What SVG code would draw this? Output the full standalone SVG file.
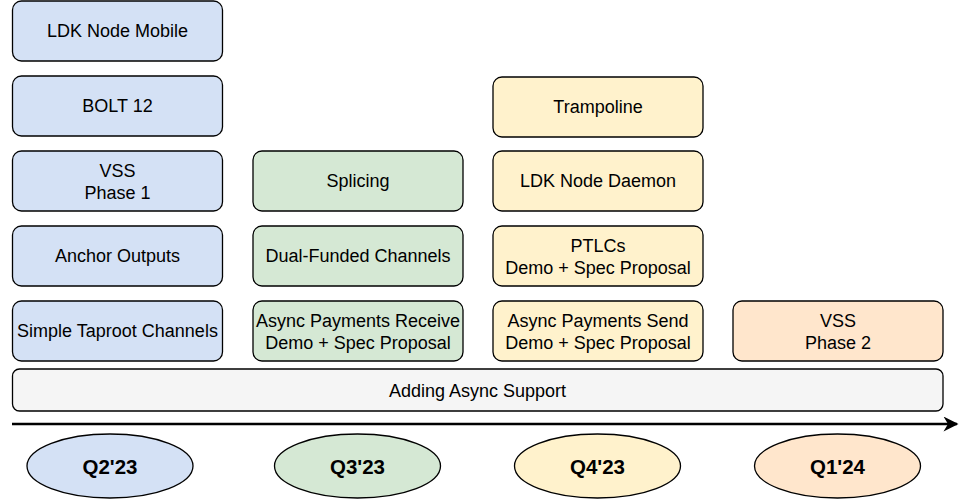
<svg xmlns="http://www.w3.org/2000/svg" width="971" height="500" viewBox="0 0 971 500">
<style>
.b{stroke:#000;stroke-width:1.3}
.blue{fill:#d4e1f5}
.green{fill:#d5e8d4}
.yellow{fill:#fff2cc}
.orange{fill:#ffe6cc}
.gray{fill:#f5f5f5}
text{font-family:"Liberation Sans",Arial,sans-serif;font-size:18px;fill:#000;text-anchor:middle}
.q{font-weight:bold;font-size:20.5px}
</style>
<defs>
<marker id="ah" viewBox="0 0 10 10" refX="9" refY="5" markerWidth="9" markerHeight="6" markerUnits="strokeWidth" orient="auto">
<path d="M0,0 L10,5 L0,10 L3,5 Z" fill="#000"/>
</marker>
</defs>
<g id="connectors">
<line x1="12" y1="424" x2="957" y2="424" stroke="#000" stroke-width="2.5" marker-end="url(#ah)"/>
</g>
<g id="n-ldk-mobile"><rect class="b blue" x="12.5" y="1" width="210" height="60" rx="9"/><text x="117.5" y="37">LDK Node Mobile</text></g>
<g id="n-bolt12"><rect class="b blue" x="12.5" y="76" width="210" height="60" rx="9"/><text x="117.5" y="112">BOLT 12</text></g>
<g id="n-vss1"><rect class="b blue" x="12.5" y="151" width="210" height="60" rx="9"/><text x="117.5" y="176.5">VSS</text><text x="117.5" y="198.5">Phase 1</text></g>
<g id="n-anchor"><rect class="b blue" x="12.5" y="226" width="210" height="60" rx="9"/><text x="117.5" y="262">Anchor Outputs</text></g>
<g id="n-taproot"><rect class="b blue" x="12.5" y="301" width="210" height="60" rx="9"/><text x="117.5" y="337">Simple Taproot Channels</text></g>
<g id="n-splicing"><rect class="b green" x="253" y="151" width="210" height="60" rx="9"/><text x="358" y="187">Splicing</text></g>
<g id="n-dual"><rect class="b green" x="253" y="226" width="210" height="60" rx="9"/><text x="358" y="262">Dual-Funded Channels</text></g>
<g id="n-async-recv"><rect class="b green" x="253" y="301" width="210" height="60" rx="9"/><text x="358" y="326.5">Async Payments Receive</text><text x="358" y="348.5">Demo + Spec Proposal</text></g>
<g id="n-trampoline"><rect class="b yellow" x="493" y="77" width="210" height="60" rx="9"/><text x="598" y="113">Trampoline</text></g>
<g id="n-daemon"><rect class="b yellow" x="493" y="151" width="210" height="60" rx="9"/><text x="598" y="187">LDK Node Daemon</text></g>
<g id="n-ptlc"><rect class="b yellow" x="493" y="226" width="210" height="60" rx="9"/><text x="598" y="251.5">PTLCs</text><text x="598" y="273.5">Demo + Spec Proposal</text></g>
<g id="n-async-send"><rect class="b yellow" x="493" y="301" width="210" height="60" rx="9"/><text x="598" y="326.5">Async Payments Send</text><text x="598" y="348.5">Demo + Spec Proposal</text></g>
<g id="n-vss2"><rect class="b orange" x="733" y="301" width="210" height="60" rx="9"/><text x="838" y="326.5">VSS</text><text x="838" y="348.5">Phase 2</text></g>
<g id="n-async-support"><rect class="b gray" x="12.5" y="369" width="930.5" height="42" rx="7"/><text x="477.5" y="396.5">Adding Async Support</text></g>
<g id="q-q223"><ellipse class="b blue" cx="110" cy="466" rx="83" ry="32"/><text class="q" x="110" y="474">Q2'23</text></g>
<g id="q-q323"><ellipse class="b green" cx="357.5" cy="466" rx="83" ry="32"/><text class="q" x="357.5" y="474">Q3'23</text></g>
<g id="q-q423"><ellipse class="b yellow" cx="597.5" cy="466" rx="83" ry="32"/><text class="q" x="597.5" y="474">Q4'23</text></g>
<g id="q-q124"><ellipse class="b orange" cx="837.5" cy="466" rx="83" ry="32"/><text class="q" x="837.5" y="474">Q1'24</text></g>
</svg>
